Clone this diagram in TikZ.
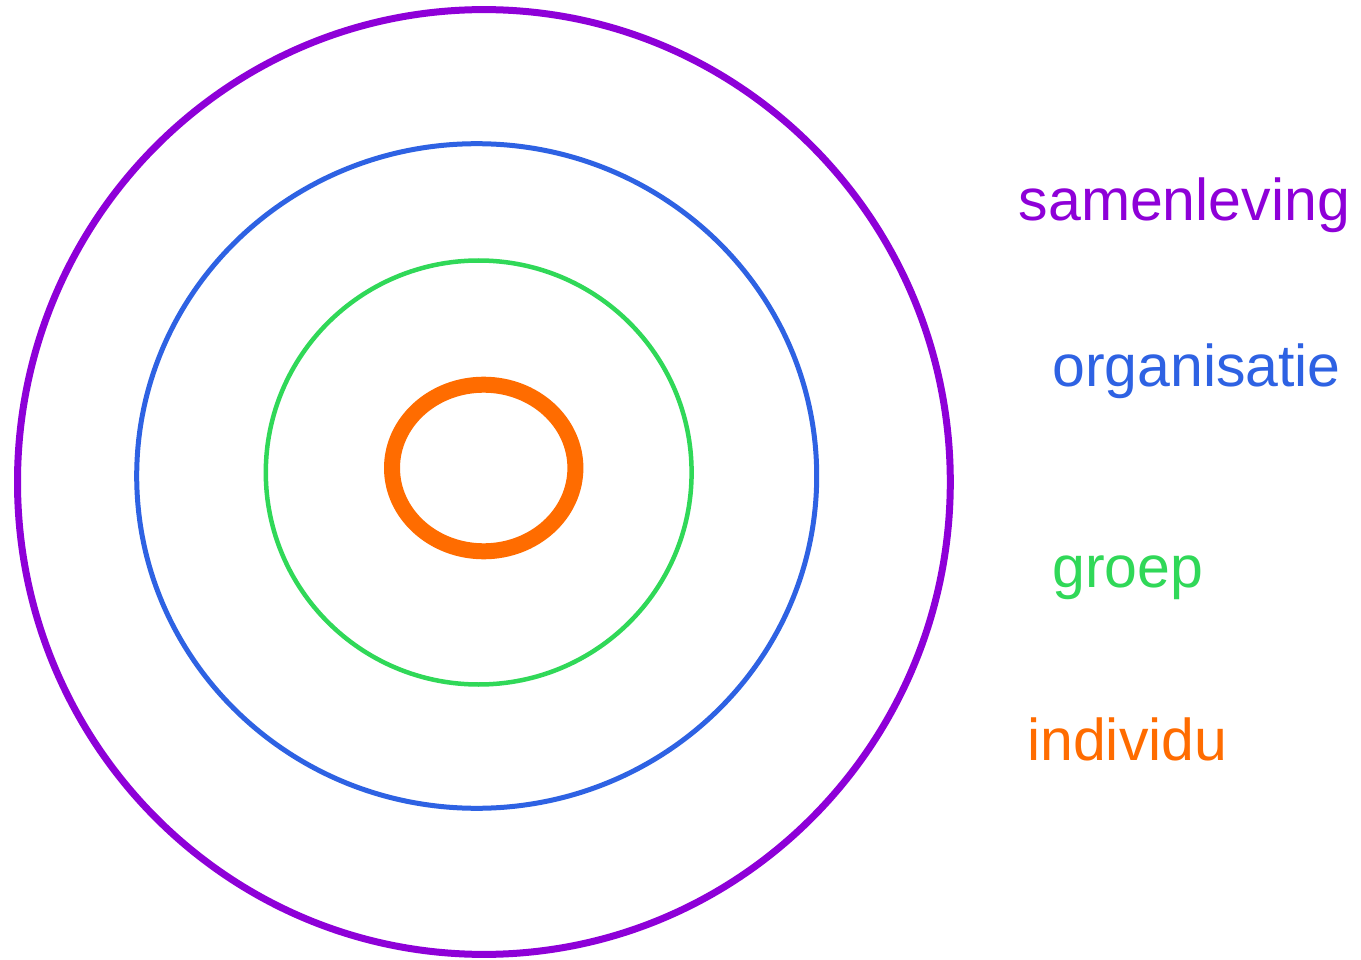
\documentclass[tikz,border=0pt]{standalone}
\usepackage{fontspec}
\setmainfont{Liberation Sans}
\definecolor{cpurple}{HTML}{8E00D8}
\definecolor{cblue}{HTML}{2E62E3}
\definecolor{cgreen}{HTML}{30D858}
\definecolor{corange}{HTML}{FF6C00}
\begin{document}
\begin{tikzpicture}[x=1pt,y=-1pt,
  ring/.style={draw,fill=none},
  lbl/.style={anchor=base west,inner sep=0pt,font=\fontsize{59}{62}\selectfont}]
\useasboundingbox (0,0) rectangle (1361,960);
\fill[white] (0,0) rectangle (1361,960);
\draw[ring,cpurple,line width=7pt] (483.9,482) ellipse [x radius=466.4, y radius=472.4];
\draw[ring,cblue,line width=5pt] (476.7,476) ellipse [x radius=340, y radius=332.3];
\draw[ring,cgreen,line width=4.5pt] (478.7,472.5) ellipse [x radius=212.9, y radius=212];
\draw[ring,corange,line width=16pt] (483.7,468) ellipse [x radius=91.7, y radius=83.3];
\node[lbl,text=cpurple] (samenleving) at (1018.5,220.7) {samenleving};
\node[lbl,text=cblue] (organisatie) at (1052,386.7) {organisatie};
\node[lbl,text=cgreen] (groep) at (1052,587.3) {groep};
\node[lbl,text=corange] (individu) at (1027,760.7) {individu};
\end{tikzpicture}
\end{document}
